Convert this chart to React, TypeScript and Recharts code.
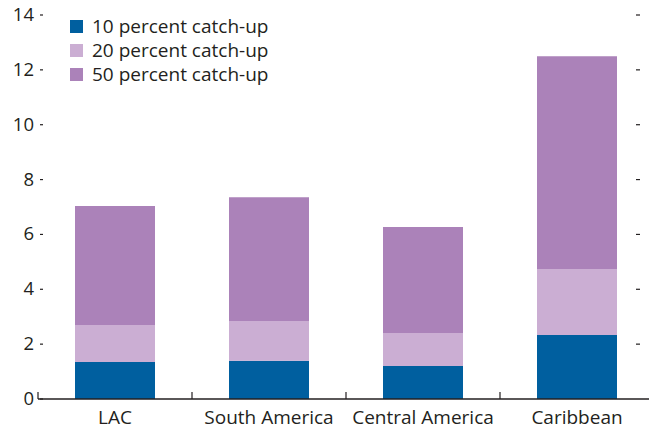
import { BarChart, Bar, XAxis, YAxis } from "recharts";

const categories = ["LAC", "South America", "Central America", "Caribbean"];
const catchUp10 = [1.35, 1.39, 1.2, 2.33];
const catchUp20 = [1.35, 1.45, 1.21, 2.41];
const catchUp50 = [4.34, 4.52, 3.86, 7.76];
const yTicks = [0, 2, 4, 6, 8, 10, 12, 14];

const seriesInfo = [
  { key: "c10", name: "10 percent catch-up", color: "#005f9f" },
  { key: "c20", name: "20 percent catch-up", color: "#cbaed3" },
  { key: "c50", name: "50 percent catch-up", color: "#ab82b9" },
];

const data = categories.map((cat, i) => ({
  cat,
  c10: catchUp10[i],
  c20: catchUp20[i],
  c50: catchUp50[i],
}));

const FONT = "'Open Sans', Lato, sans-serif";
const TEXT = "#231f20";
const BAND = 154;

// left labels + the short ticks, plus the unlabeled marks near the right edge
function LeftTick(props: any) {
  const { x, y, payload } = props;
  return (
    <g>
      <text x={x - 4} y={y} dy={6} textAnchor="end" fontSize={18.5} fill={TEXT} fontFamily={FONT}>
        {payload.value}
      </text>
      <line x1={x + 2} x2={x + 5} y1={y} y2={y} stroke={TEXT} strokeWidth={1.2} />
      {payload.value !== 0 && (
        <line x1={x + 598} x2={x + 602} y1={y} y2={y} stroke={TEXT} strokeWidth={1.2} />
      )}
    </g>
  );
}

function CatTick(props: any) {
  const { x, y, payload } = props;
  return (
    <g>
      <line x1={x - BAND / 2} x2={x - BAND / 2} y1={y} y2={y - 7} stroke={TEXT} strokeWidth={1.2} />
      <text x={x} y={y} dy={25} textAnchor="middle" fontSize={19} fill={TEXT} fontFamily={FONT}>
        {payload.value}
      </text>
    </g>
  );
}

export default function App() {
  return (
    <div style={{ position: "absolute", left: 0, top: 0, width: 649, height: 429, overflow: "hidden", background: "#fff" }}>
      <BarChart width={654} height={429} data={data} margin={{ top: 15, right: 0, bottom: 0, left: 0 }}>
        <XAxis
          dataKey="cat"
          tick={<CatTick />}
          tickLine={false}
          tickSize={0}
          tickMargin={0}
          height={30}
          axisLine={{ stroke: TEXT, strokeWidth: 1.5 }}
          interval={0}
        />
        <YAxis
          domain={[0, 14]}
          ticks={yTicks}
          width={38}
          axisLine={false}
          tickLine={false}
          tick={<LeftTick />}
          tickMargin={0}
          tickSize={0}
        />
        {seriesInfo.map((s) => (
          <Bar
            key={s.key}
            dataKey={s.key}
            name={s.name}
            stackId="a"
            fill={s.color}
            barSize={80}
            isAnimationActive={false}
          />
        ))}
      </BarChart>
      <div style={{ position: "absolute", left: 70, top: 14, fontFamily: FONT, fontSize: 19, color: TEXT }}>
        {seriesInfo.map((s) => (
          <div key={s.key} style={{ display: "flex", alignItems: "center", height: 24 }}>
            <span style={{ width: 13, height: 13, background: s.color, marginRight: 9, display: "inline-block" }} />
            <span>{s.name}</span>
          </div>
        ))}
      </div>
    </div>
  );
}
